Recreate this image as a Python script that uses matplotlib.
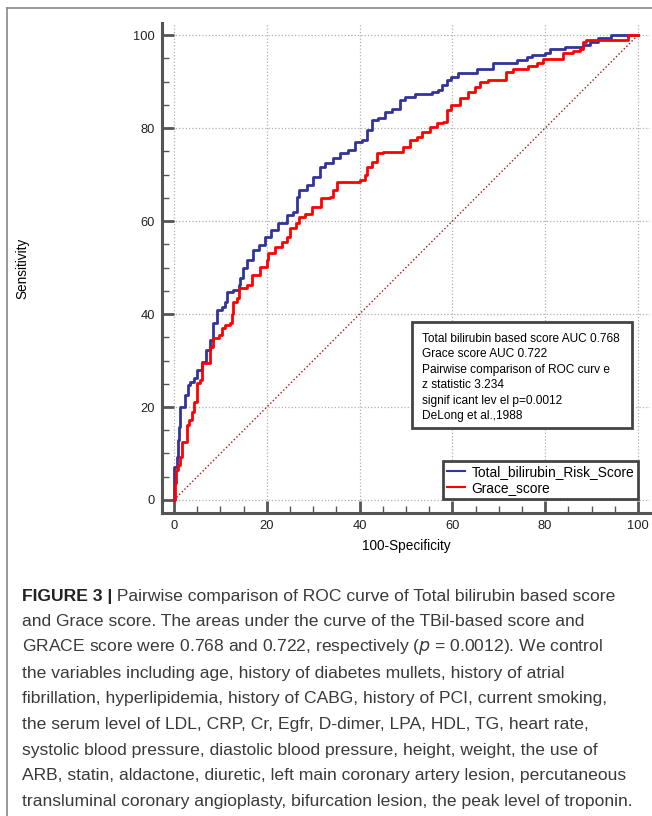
import matplotlib
matplotlib.use("Agg")
import matplotlib.pyplot as plt
from matplotlib.patches import Rectangle
from matplotlib.lines import Line2D
from matplotlib.ticker import MultipleLocator

plt.rcParams['font.family'] = ['Liberation Sans', 'DejaVu Sans']

# ROC curves, upper-left corners of the staircase (100-Specificity, Sensitivity)
tbil_x = [0, 0, 0.6, 0.9, 1.1, 1.3, 2.4, 2.9, 3.4, 4.2, 4.9, 6.0, 6.9, 7.8, 8.5,
          9.2, 10.3, 11.0, 11.4, 12.8, 13.9, 14.2, 14.9, 15.7, 17.1, 18.4, 19.6,
          21.0, 22.5, 24.3, 25.7, 26.4, 27.0, 28.6, 30.0, 31.5, 32.5, 34.3, 35.8,
          37.6, 39.0, 40.5, 41.5, 42.6, 44.0, 45.5, 46.9, 48.7, 49.8, 51.9, 55.5,
          57.0, 57.7, 58.8, 59.8, 61.3, 65.2, 68.8, 73.9, 76.0, 77.1, 80.0, 81.0,
          84.3, 88.2, 89.7, 91.4, 94.3, 100]
tbil_y = [0, 7.2, 9.3, 12.9, 15.8, 20.0, 22.6, 24.7, 25.4, 26.2, 28.0, 29.7, 32.3,
          34.4, 38.0, 40.9, 41.6, 42.6, 44.8, 45.2, 46.2, 47.7, 49.8, 51.6, 53.8,
          54.8, 56.6, 58.1, 59.5, 61.3, 62.0, 65.2, 66.7, 67.7, 69.5, 71.7, 72.5,
          73.5, 74.6, 75.3, 77.1, 77.4, 79.6, 81.7, 82.1, 83.5, 84.2, 86.0, 86.7,
          87.3, 87.8, 88.2, 89.2, 90.3, 91.0, 91.8, 92.8, 93.9, 94.6, 95.3, 95.7,
          96.1, 96.9, 97.5, 97.8, 98.6, 99.3, 100, 100]

grace_x = [0, 0.2, 0.4, 0.9, 1.3, 1.7, 2.7, 3.3, 3.8, 4.3, 4.9, 5.6, 6.0, 7.8, 8.5,
           9.6, 10.3, 11.0, 12.1, 12.4, 12.8, 13.5, 13.9, 15.7, 16.7, 18.5, 20.0,
           20.3, 21.8, 23.2, 24.3, 25.0, 26.3, 27.0, 28.2, 29.7, 31.6, 33.6, 34.3,
           35.2, 40.1, 41.2, 41.5, 42.6, 43.7, 45.1, 48.3, 49.4, 50.9, 52.3, 53.4,
           55.2, 56.6, 58.0, 58.8, 59.8, 61.6, 63.4, 64.9, 65.9, 67.7, 71.6, 73.1,
           76.4, 78.2, 79.6, 83.9, 86.1, 87.5, 88.2, 88.9, 97.9, 100]
grace_y = [0, 3.6, 6.5, 7.5, 9.3, 12.5, 16.1, 17.2, 19.0, 21.1, 25.1, 25.8, 29.4,
           33.0, 34.8, 35.5, 36.9, 37.6, 38.0, 40.1, 42.6, 43.4, 45.5, 46.2, 48.4,
           50.2, 51.6, 53.1, 54.5, 55.6, 56.6, 58.4, 59.5, 60.9, 61.6, 63.1, 64.9,
           65.2, 66.7, 68.5, 68.8, 69.9, 71.7, 72.8, 74.6, 74.9, 74.9, 76.0, 77.4,
           78.0, 79.2, 80.3, 81.1, 81.4, 83.9, 84.9, 86.4, 87.8, 88.9, 90.0, 90.3,
           92.1, 92.6, 93.3, 93.9, 94.8, 96.1, 96.6, 97.1, 98.6, 99.0, 100, 100]

series_names = ['Total_bilirubin_Risk_Score', 'Grace_score']
stats_lines = ['Total bilirubin based score AUC 0.768',
               'Grace score AUC 0.722',
               'Pairwise comparison of ROC curv e',
               'z statistic 3.234',
               'signif icant lev el p=0.0012',
               'DeLong et al.,1988']
ticks = [0, 20, 40, 60, 80, 100]

caption_bold = 'FIGURE 3 |'
caption_lines = [
    ' Pairwise comparison of ROC curve of Total bilirubin based score',
    'and Grace score. The areas under the curve of the TBil-based score and',
    'GRACE score were 0.768 and 0.722, respectively ($p$ = 0.0012). We control',
    'the variables including age, history of diabetes mullets, history of atrial',
    'fibrillation, hyperlipidemia, history of CABG, history of PCI, current smoking,',
    'the serum level of LDL, CRP, Cr, Egfr, D-dimer, LPA, HDL, TG, heart rate,',
    'systolic blood pressure, diastolic blood pressure, height, weight, the use of',
    'ARB, statin, aldactone, diuretic, left main coronary artery lesion, percutaneous',
    'transluminal coronary angioplasty, bifurcation lesion, the peak level of troponin.',
]

W, H = 652, 816


def fx(px):
    return px / W


def fy(py):
    return 1 - py / H


fig = plt.figure(figsize=(W / 100, H / 100), dpi=100)

# outer frame of the figure panel
fig.add_artist(Line2D([fx(7), fx(7)], [fy(8), 0], color='#888888', lw=1.2))
fig.add_artist(Line2D([fx(7), 1], [fy(8), fy(8)], color='#888888', lw=1.2))

ax = fig.add_axes([fx(162), fy(513), fx(650) - fx(162), fy(23) - fy(513)])
ax.set_xlim(-2.6, 102.6)
ax.set_ylim(-2.8, 102.6)

axis_col = '#555555'
for side in ['top', 'right']:
    ax.spines[side].set_visible(False)
for side in ['left', 'bottom']:
    ax.spines[side].set_color(axis_col)
    ax.spines[side].set_linewidth(2.2)

ax.set_xticks(ticks)
ax.set_yticks(ticks)
ax.xaxis.set_minor_locator(MultipleLocator(5))
ax.yaxis.set_minor_locator(MultipleLocator(5))
ax.tick_params(which='major', direction='in', length=8.6, width=2, color=axis_col,
               labelsize=9.3, pad=5, labelcolor='#222222')
ax.tick_params(which='minor', direction='in', length=5, width=1, color=axis_col)
ax.grid(True, which='major', linestyle=':', color='#b0b0b0', linewidth=0.9)

ax.plot([0, 100], [0, 100], linestyle=':', color='#a01818', linewidth=1.0)
ax.plot(tbil_x, tbil_y, drawstyle='steps-post', color='#333399', lw=2.0,
        label=series_names[0])
ax.plot(grace_x, grace_y, drawstyle='steps-post', color='#ff0000', lw=2.0,
        label=series_names[1])

ax.set_xlabel('100-Specificity', fontsize=9.8, labelpad=5)
fig.text(fx(22), fy(268), 'Sensitivity', rotation=90, ha='center', va='center',
         fontsize=9.8)

# statistics box
box = Rectangle((fx(412), fy(428)), fx(632) - fx(412), fy(322) - fy(428),
                transform=fig.transFigure, facecolor='white', edgecolor='#444444',
                lw=2, zorder=5)
fig.add_artist(box)
for i, line in enumerate(stats_lines):
    fig.text(fx(422), fy(339 + i * 15.4), line, fontsize=8.6, va='center',
             ha='left', zorder=6)

leg = ax.legend(loc='lower right', bbox_to_anchor=(fx(638), fy(499)),
                bbox_transform=fig.transFigure, fontsize=9.9, frameon=True,
                fancybox=False, edgecolor='#444444', framealpha=1,
                handlelength=1.3, handletextpad=0.45, labelspacing=0.12,
                borderpad=0.3, borderaxespad=0)
leg.get_frame().set_linewidth(2)
for lh in leg.get_lines():
    lh.set_linewidth(1.5)

# caption
cap_size = 12.6
cap_col = '#3a3a3a'
t0 = fig.text(fx(22), fy(596), caption_bold, fontsize=cap_size, fontweight='bold',
              color='#222222', va='center', ha='left')
fig.canvas.draw()
bb = t0.get_window_extent()
fig.text(bb.x1 / W, fy(596), caption_lines[0], fontsize=cap_size, color=cap_col,
         va='center', ha='left')
for i, line in enumerate(caption_lines[1:]):
    fig.text(fx(22), fy(596 + (i + 1) * 25.7), line, fontsize=cap_size,
             color=cap_col, va='center', ha='left')

fig.savefig('out.png', dpi=100)
